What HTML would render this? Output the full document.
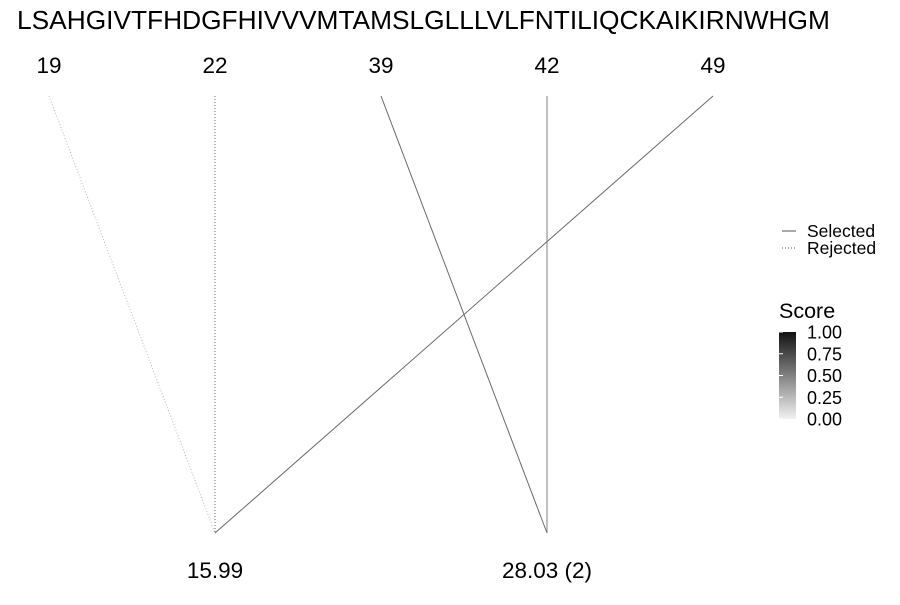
<!DOCTYPE html>
<html><head><meta charset="utf-8"><style>
body{margin:0;background:#fff;}
svg text{font-family:"Liberation Sans",sans-serif;fill:#000;}
</style></head><body>
<svg id="chart" width="900" height="600" xmlns="http://www.w3.org/2000/svg">
<defs><linearGradient id="g" x1="0" y1="1" x2="0" y2="0"><stop offset="0" stop-color="#f2f2f2"/><stop offset="1" stop-color="#111"/></linearGradient></defs>
<text x="17" y="29" font-size="26.3">LSAHGIVTFHDGFHIVVVMTAMSLGLLLVLFNTILIQCKAIKIRNWHGM</text>
<g id="tops"></g><g id="bottoms"></g><g id="links"></g>
<g>
<line x1="782" y1="231" x2="796" y2="231" stroke="#555" stroke-width="1"/>
<text x="807" y="237" font-size="17.5">Selected</text>
<line x1="782" y1="248" x2="796" y2="248" stroke="#555" stroke-width="1" stroke-dasharray="1,2"/>
<text x="807" y="254" font-size="17.5">Rejected</text>
</g>
<g>
<text x="779" y="318" font-size="21.5">Score</text>
<rect x="779" y="332" width="17" height="87" fill="url(#g)"/>
<g id="cbticks"></g>
</g>
</svg>
<script>
const topLabels=["19","22","39","42","49"];
const bottomLabels=["15.99","28.03 (2)"];
const linkFrom=[0,1,2,3,4];
const linkTo=[0,0,1,1,0];
const linkScore=[0.25,0.6,0.6,0.5,0.6];
const linkSelected=[false,false,true,true,true];
const cbTicks=[0,0.25,0.5,0.75,1];
const NS="http://www.w3.org/2000/svg";
const topX=i=>49+i*166, bottomX=j=>215+j*332, topY=96, botY=533;
const gray=s=>{const v=Math.round(242-s*(242-17));return `rgb(${v},${v},${v})`;};
const cbY=v=>419-v*87;
function mk(tag,attrs,parent){const e=document.createElementNS(NS,tag);for(const k in attrs)e.setAttribute(k,attrs[k]);parent.appendChild(e);return e;}
const tops=document.getElementById('tops');
topLabels.forEach((t,i)=>{const e=mk('text',{x:topX(i),y:73,'font-size':22.5,'text-anchor':'middle'},tops);e.textContent=t;

});
const bots=document.getElementById('bottoms');
bottomLabels.forEach((t,j)=>{const e=mk('text',{x:bottomX(j),y:578,'font-size':22.5,'text-anchor':'middle'},bots);e.textContent=t;

});
const links=document.getElementById('links');
linkFrom.forEach((f,k)=>{const a={x1:topX(f),y1:topY,x2:bottomX(linkTo[k]),y2:botY,stroke:gray(linkScore[k]),'stroke-width':1};
if(!linkSelected[k])a['stroke-dasharray']='1,2';
const e=mk('line',a,links);

});
const cbt=document.getElementById('cbticks');
cbTicks.forEach(v=>{const y=cbY(v);
const l=mk('line',{x1:779,x2:783,y1:y,y2:y,stroke:'#fff'},cbt);


const e=mk('text',{x:807,y:y+6.5,'font-size':18},cbt);e.textContent=v.toFixed(2);

});
</script>
</body></html>
